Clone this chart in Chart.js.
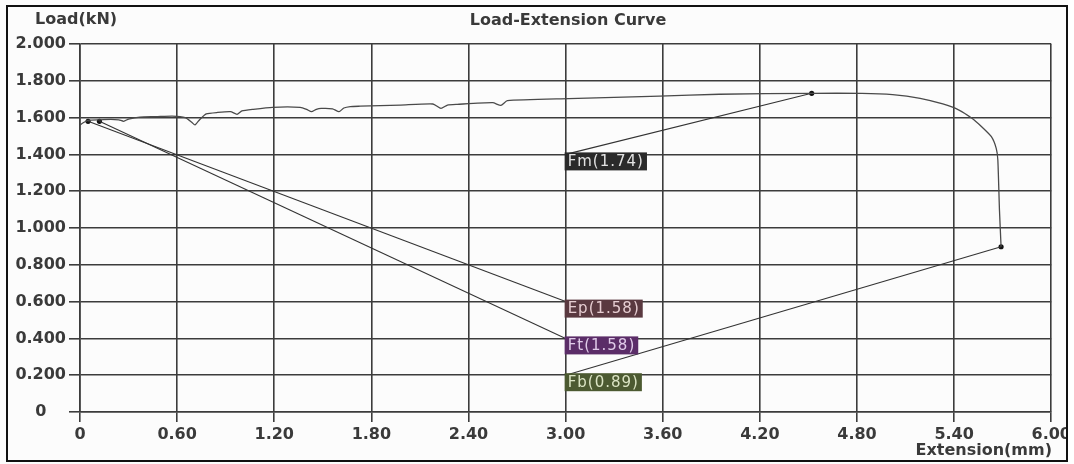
<!DOCTYPE html>
<html>
<head>
<meta charset="utf-8">
<script src="https://cdn.jsdelivr.net/npm/chart.js@4"></script>
<style>
  html, body { margin: 0; padding: 0; background: #fff; }
  #wrap { width: 1074px; height: 464px; }
</style>
</head>
<body>
<div id="wrap"><canvas id="chart" width="1074" height="464"></canvas></div>
<script>
// load-extension curve
const extension = [0, 0.02, 0.05, 0.12, 0.19, 0.24, 0.27, 0.30, 0.37, 0.47, 0.57, 0.65, 0.69, 0.71, 0.74, 0.78, 0.85, 0.93, 0.97, 1.00, 1.07, 1.19, 1.36, 1.40, 1.43, 1.46, 1.49, 1.56, 1.60, 1.63, 1.67, 1.73, 1.98, 2.18, 2.23, 2.27, 2.33, 2.55, 2.60, 2.64, 3.02, 3.58, 3.95, 4.52, 4.83, 5.02, 5.19, 5.33, 5.43, 5.51, 5.57, 5.63, 5.66, 5.67, 5.68, 5.69];
const load      = [1.560, 1.572, 1.585, 1.588, 1.590, 1.588, 1.580, 1.592, 1.603, 1.605, 1.608, 1.600, 1.575, 1.560, 1.590, 1.620, 1.628, 1.632, 1.618, 1.636, 1.645, 1.656, 1.656, 1.645, 1.632, 1.645, 1.650, 1.648, 1.632, 1.652, 1.660, 1.662, 1.668, 1.674, 1.650, 1.668, 1.672, 1.681, 1.666, 1.692, 1.703, 1.717, 1.727, 1.732, 1.732, 1.725, 1.705, 1.674, 1.641, 1.596, 1.550, 1.496, 1.433, 1.370, 1.098, 0.898];

// marked points and their tags
const markNames = ['Ep(1.58)', 'Ft(1.58)', 'Fm(1.74)', 'Fb(0.89)'];
const markX = [0.05, 0.12, 4.52, 5.69];
const markY = [1.58, 1.58, 1.732, 0.898];
const tagX = [3.00, 3.00, 3.00, 3.00];
const tagY = [0.60, 0.40, 1.40, 0.20];

// axis ticks
const xTicks = [0, 0.60, 1.20, 1.80, 2.40, 3.00, 3.60, 4.20, 4.80, 5.40, 6.00];
const yTicks = [0, 0.200, 0.400, 0.600, 0.800, 1.000, 1.200, 1.400, 1.600, 1.800, 2.000];

const tagBg = ['#5a3940', '#5b2d68', '#2a2a2a', '#4c5a31'];
const tagFg = ['#e6cdd1', '#e0cbe9', '#e2e2e2', '#dbe4c4'];

const FONT = 'DejaVu Sans';
const GRID = '#3c3c3c';

const datasets = [];
datasets.push({
  data: extension.map((x, i) => ({ x: x, y: load[i] })),
  showLine: true, borderColor: '#4a4a4a', borderWidth: 1.3,
  pointRadius: 0, tension: 0.18
});
// leader lines from each mark to its tag
markX.forEach((mx, i) => {
  datasets.push({
    data: [{ x: mx, y: markY[i] }, { x: tagX[i], y: tagY[i] }],
    showLine: true, borderColor: '#333', borderWidth: 1.1, pointRadius: 0
  });
});
// the marks
datasets.push({
  data: markX.map((x, i) => ({ x: x, y: markY[i] })),
  showLine: false, pointRadius: 2.6, pointBackgroundColor: '#111', pointBorderWidth: 0
});

const decor = {
  id: 'decor',
  beforeDraw(chart) {
    const ctx = chart.ctx;
    ctx.save();
    ctx.fillStyle = '#fcfcfc';
    ctx.fillRect(0, 0, chart.width, chart.height);
    ctx.restore();
  },
  afterDatasetsDraw(chart) {
    const ctx = chart.ctx;
    const xs = chart.scales.x, ys = chart.scales.y;
    ctx.save();
    ctx.font = '15px "' + FONT + '"';
    ctx.letterSpacing = '1px';
    ctx.textBaseline = 'middle';
    markNames.forEach((name, i) => {
      const px = xs.getPixelForValue(tagX[i]);
      const py = ys.getPixelForValue(tagY[i]);
      const w = ctx.measureText(name).width + 6;
      ctx.fillStyle = tagBg[i];
      ctx.fillRect(px - 1, py - 2, w, 18);
      ctx.fillStyle = tagFg[i];
      ctx.fillText(name, px + 2, py + 7.5);
    });
    ctx.restore();
  },
  afterDraw(chart) {
    const ctx = chart.ctx;
    ctx.save();
    ctx.fillStyle = '#fff';
    ctx.fillRect(1068, 0, 10, chart.height);
    ctx.fillStyle = '#3a3a3a';
    ctx.font = 'bold 16px "' + FONT + '"';
    ctx.textBaseline = 'middle';
    ctx.textAlign = 'left';
    ctx.fillText('Load(kN)', 35, 20);
    ctx.textAlign = 'center';
    ctx.fillText('Load-Extension Curve', 568, 21);
    ctx.textAlign = 'right';
    ctx.fillText('Extension(mm)', 1052, 451);
    ctx.strokeStyle = '#111';
    ctx.lineWidth = 2;
    ctx.strokeRect(7, 6, 1060, 455);
    ctx.restore();
  }
};

new Chart(document.getElementById('chart'), {
  type: 'scatter',
  data: { datasets: datasets },
  plugins: [decor],
  options: {
    responsive: false,
    animation: false,
    layout: { padding: { left: 8, right: 19, top: 44, bottom: 0 } },
    plugins: { legend: { display: false }, tooltip: { enabled: false } },
    scales: {
      x: {
        type: 'linear', min: 0, max: 6,
        afterBuildTicks: s => { s.ticks = xTicks.map(v => ({ value: v })); },
        afterFit: s => { s.height = 52; },
        grid: { color: GRID, lineWidth: 1.6, tickLength: 10, tickColor: GRID },
        border: { color: GRID, width: 1.6 },
        ticks: {
          padding: 3, color: '#3a3a3a', maxRotation: 0,
          font: { family: FONT, size: 16, weight: 'bold' },
          callback: v => v === 0 ? '0' : v.toFixed(2)
        }
      },
      y: {
        type: 'linear', min: 0, max: 2,
        afterBuildTicks: s => { s.ticks = yTicks.map(v => ({ value: v })); },
        afterFit: s => { s.width = 72; },
        grid: { color: GRID, lineWidth: 1.6, tickLength: 11, tickColor: GRID },
        border: { color: GRID, width: 1.6 },
        ticks: {
          padding: 3, color: '#3a3a3a', crossAlign: 'center',
          font: { family: FONT, size: 16, weight: 'bold' },
          callback: v => v === 0 ? '0' : v.toFixed(3)
        }
      }
    }
  }
});
</script>
</body>
</html>
